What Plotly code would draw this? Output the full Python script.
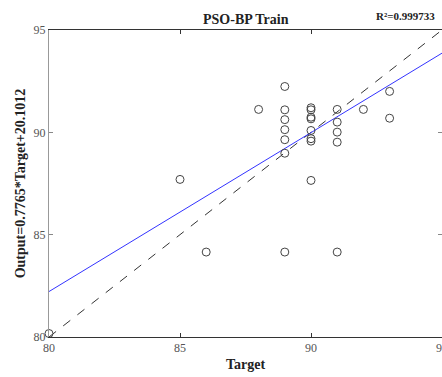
import plotly.graph_objects as go

# Data
target = [80, 85, 86, 88,
          89, 89, 89, 89, 89, 89, 89,
          90, 90, 90, 90, 90, 90, 90, 90,
          91, 91, 91, 91, 91,
          92, 93, 93]
output = [80.17, 87.70, 84.15, 91.12,
          92.24, 91.10, 90.62, 90.13, 89.64, 88.98, 84.15,
          91.20, 91.10, 90.74, 90.66, 90.09, 89.69, 89.57, 87.65,
          91.12, 90.50, 90.01, 89.52, 84.15,
          91.12, 92.00, 90.69]
slope = 0.7765
intercept = 20.1012
r2_text = "R²=0.999733"
x_range = [80, 95]
y_range = [80, 95]
tick_vals = [80, 85, 90, 95]

FONT = "Times New Roman, Liberation Serif, serif"

fit_y = [slope * x + intercept for x in x_range]

fig = go.Figure()
fig.add_trace(go.Scatter(x=x_range, y=x_range, mode="lines",
                         line=dict(color="#333333", width=1, dash="dash"),
                         showlegend=False, hoverinfo="skip"))
fig.add_trace(go.Scatter(x=x_range, y=fit_y, mode="lines",
                         line=dict(color="#3333ff", width=1),
                         showlegend=False, hoverinfo="skip"))
fig.add_trace(go.Scatter(x=target, y=output, mode="markers", cliponaxis=False,
                         marker=dict(symbol="circle-open", size=8,
                                     color="#444444", line=dict(width=1, color="#444444")),
                         showlegend=False))

fig.update_layout(
    width=442, height=377,
    margin=dict(l=49, r=0, t=30, b=40, autoexpand=False),
    plot_bgcolor="white", paper_bgcolor="white",
    font=dict(family=FONT, size=12, color="#444444"),
    xaxis=dict(range=x_range, tickvals=tick_vals, ticks="inside", ticklen=4,
               tickcolor="#333333", showline=True, linecolor="#333333", linewidth=1,
               mirror="allticks", showgrid=False, zeroline=False,
               ticklabeloverflow="allow", automargin=False,
               tickfont=dict(family=FONT, size=12, color="#555555"),
               title=dict(text="<b>Target</b>", font=dict(family=FONT, size=14, color="#222222"),
                          standoff=4)),
    yaxis=dict(range=y_range, tickvals=tick_vals, ticks="inside", ticklen=4,
               tickcolor="#888888", showline=True, linecolor="#999999", linewidth=1,
               mirror="allticks", showgrid=False, zeroline=False,
               ticklabeloverflow="allow", automargin=False,
               tickfont=dict(family=FONT, size=12, color="#555555"),
               title=dict(text="<b>Output=0.7765*Target+20.1012</b>",
                          font=dict(family=FONT, size=14, color="#222222"), standoff=4)),
    annotations=[
        dict(text="<b>PSO-BP Train</b>", x=0.5, y=1.034, xref="paper", yref="paper",
             xanchor="center", yanchor="middle", showarrow=False,
             font=dict(family=FONT, size=14, color="#222222")),
        dict(text="<b>" + r2_text + "</b>", x=0.988, y=1.045, xref="paper", yref="paper",
             xanchor="right", yanchor="middle", showarrow=False,
             font=dict(family=FONT, size=11, color="#222222")),
    ],
)

fig.write_html("out.html")
